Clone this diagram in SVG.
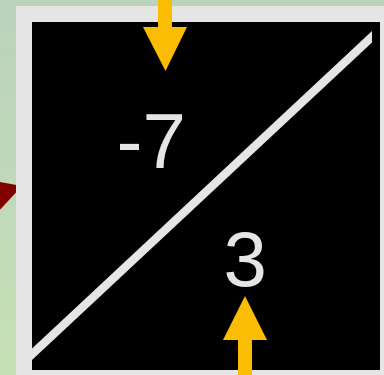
<svg xmlns="http://www.w3.org/2000/svg" width="384" height="375" viewBox="0 0 384 375">
  <defs>
    <linearGradient id="bg" x1="0" y1="0" x2="0" y2="1">
      <stop offset="0" stop-color="#bbd2bd"/>
      <stop offset="1" stop-color="#c6e0b5"/>
    </linearGradient>
    <clipPath id="inner"><rect x="32" y="22" width="340" height="340"/></clipPath>
    <style>
      .num { font-family: "Liberation Sans", Arial, sans-serif; font-size: 78px; fill: #e5e5e5; }
      .arrow { fill: #fbbc04; }
    </style>
  </defs>
  <rect x="0" y="0" width="384" height="375" fill="url(#bg)"/>
  <g id="connectors">
    <polygon points="-2,181.5 22,186 -2,212" fill="#800000"/>
  </g>
  <g id="cell">
    <rect x="24" y="14" width="364" height="364" fill="#000000" stroke="#e5e5e5" stroke-width="16"/>
    <rect x="32" y="22" width="340.4" height="340" fill="#000000"/>
    <line x1="28" y1="358" x2="376" y2="33" stroke="#e5e5e5" stroke-width="8.5" clip-path="url(#inner)"/>
    <text class="num" x="116.5" y="168">-7</text>
    <text class="num" x="223.5" y="286">3</text>
  </g>
  <g id="arrows">
    <polygon class="arrow" points="158,0 172,0 172,27 187,27 165.5,71 143,27 158,27"/>
    <polygon class="arrow" points="238,375 252,375 252,340 267,340 245,296 223,340 238,340"/>
  </g>
</svg>
